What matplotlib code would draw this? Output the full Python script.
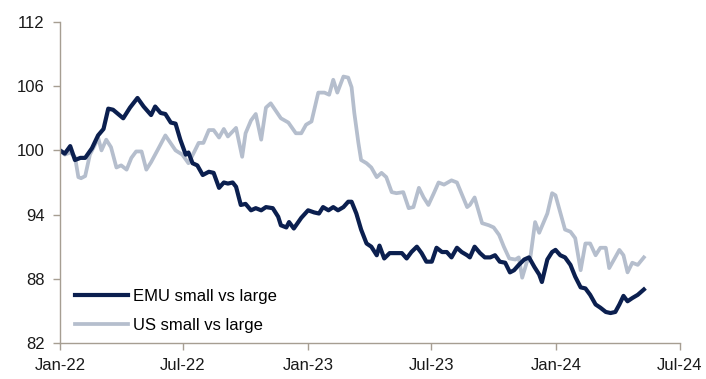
import numpy as np
import pandas as pd
import matplotlib
matplotlib.use("Agg")
import matplotlib.pyplot as plt
import matplotlib.dates as mdates

# EMU small vs large (rebased to 100)
emu_dates = ["2022-01-01", "2022-01-08", "2022-01-16", "2022-01-23", "2022-01-31", "2022-02-07",
             "2022-02-17", "2022-02-26", "2022-03-06", "2022-03-13", "2022-03-20", "2022-04-04",
             "2022-04-14", "2022-04-25", "2022-05-04", "2022-05-15", "2022-05-21", "2022-05-29",
             "2022-06-05", "2022-06-13", "2022-06-20", "2022-06-27", "2022-07-05", "2022-07-09",
             "2022-07-15", "2022-07-22", "2022-07-30", "2022-08-08", "2022-08-15", "2022-08-23",
             "2022-08-30", "2022-09-05", "2022-09-12", "2022-09-17", "2022-09-24", "2022-10-01",
             "2022-10-09", "2022-10-16", "2022-10-24", "2022-10-31", "2022-11-10", "2022-11-18",
             "2022-11-22", "2022-11-30", "2022-12-04", "2022-12-11", "2022-12-22", "2023-01-01",
             "2023-01-10", "2023-01-17", "2023-01-23", "2023-01-31", "2023-02-07", "2023-02-14",
             "2023-02-22", "2023-03-01", "2023-03-06", "2023-03-13", "2023-03-20", "2023-03-28",
             "2023-04-04", "2023-04-12", "2023-04-16", "2023-04-23", "2023-05-01", "2023-05-11",
             "2023-05-19", "2023-05-26", "2023-06-02", "2023-06-10", "2023-06-17", "2023-06-24",
             "2023-07-02", "2023-07-09", "2023-07-17", "2023-07-24", "2023-07-31", "2023-08-08",
             "2023-08-15", "2023-08-23", "2023-08-27", "2023-09-03", "2023-09-11", "2023-09-18",
             "2023-09-26", "2023-10-03", "2023-10-10", "2023-10-18", "2023-10-25", "2023-10-31",
             "2023-11-07", "2023-11-15", "2023-11-22", "2023-11-30", "2023-12-07", "2023-12-11",
             "2023-12-19", "2023-12-26", "2023-12-31", "2024-01-07", "2024-01-14", "2024-01-22",
             "2024-01-29", "2024-02-06", "2024-02-13", "2024-02-20", "2024-02-28", "2024-03-06",
             "2024-03-14", "2024-03-21", "2024-03-28", "2024-04-03", "2024-04-09", "2024-04-15",
             "2024-04-22", "2024-04-30", "2024-05-09"]
emu_values = [100.0, 99.7, 100.4, 99.1, 99.3, 99.3,
              100.2, 101.4, 102.0, 103.9, 103.8, 103.0,
              104.0, 104.9, 104.1, 103.3, 104.1, 103.5,
              103.4, 102.6, 102.5, 101.0, 99.6, 99.8,
              98.8, 98.6, 97.7, 98.0, 97.9, 96.5,
              97.0, 96.9, 97.0, 96.6, 94.9, 95.0,
              94.4, 94.6, 94.4, 94.7, 94.6, 93.8,
              93.0, 92.8, 93.3, 92.7, 93.7, 94.4,
              94.2, 94.1, 94.7, 94.4, 94.7, 94.4,
              94.7, 95.2, 95.2, 94.1, 92.6, 91.3,
              91.0, 90.2, 91.1, 89.9, 90.4, 90.4,
              90.4, 89.9, 90.5, 91.0, 90.4, 89.6,
              89.6, 90.9, 90.5, 90.5, 90.0, 90.9,
              90.5, 90.2, 90.0, 91.0, 90.4, 90.0,
              90.0, 90.2, 89.6, 89.5, 88.6, 88.8,
              89.3, 89.8, 90.0, 89.1, 88.4, 87.7,
              89.8, 90.5, 90.7, 90.2, 90.0, 89.3,
              88.2, 87.2, 87.1, 86.5, 85.6, 85.3,
              84.9, 84.8, 84.9, 85.6, 86.4, 85.9,
              86.2, 86.5, 87.0]

# US small vs large (rebased to 100)
us_dates = ["2022-01-01", "2022-01-08", "2022-01-16", "2022-01-23", "2022-01-28", "2022-02-01",
            "2022-02-07", "2022-02-14", "2022-02-22", "2022-02-26", "2022-03-03", "2022-03-10",
            "2022-03-17", "2022-03-25", "2022-04-01", "2022-04-09", "2022-04-16", "2022-04-23",
            "2022-05-01", "2022-05-08", "2022-05-15", "2022-05-26", "2022-06-05", "2022-06-20",
            "2022-06-30", "2022-07-09", "2022-07-17", "2022-07-24", "2022-07-31", "2022-08-08",
            "2022-08-15", "2022-08-23", "2022-08-30", "2022-09-05", "2022-09-17", "2022-09-26",
            "2022-10-01", "2022-10-09", "2022-10-16", "2022-10-24", "2022-10-31", "2022-11-07",
            "2022-11-22", "2022-12-03", "2022-12-14", "2022-12-22", "2022-12-29", "2023-01-06",
            "2023-01-16", "2023-01-25", "2023-02-01", "2023-02-07", "2023-02-13", "2023-02-22",
            "2023-03-01", "2023-03-06", "2023-03-10", "2023-03-16", "2023-03-20", "2023-03-28",
            "2023-04-04", "2023-04-12", "2023-04-19", "2023-04-26", "2023-05-04", "2023-05-11",
            "2023-05-21", "2023-05-29", "2023-06-05", "2023-06-13", "2023-06-20", "2023-06-27",
            "2023-07-05", "2023-07-12", "2023-07-20", "2023-07-31", "2023-08-08", "2023-08-23",
            "2023-08-27", "2023-09-03", "2023-09-14", "2023-09-24", "2023-10-01", "2023-10-09",
            "2023-10-16", "2023-10-24", "2023-11-02", "2023-11-07", "2023-11-12", "2023-11-19",
            "2023-11-24", "2023-12-01", "2023-12-07", "2023-12-19", "2023-12-26", "2023-12-31",
            "2024-01-07", "2024-01-14", "2024-01-22", "2024-01-29", "2024-02-06", "2024-02-13",
            "2024-02-20", "2024-02-28", "2024-03-06", "2024-03-14", "2024-03-19", "2024-03-27",
            "2024-04-03", "2024-04-09", "2024-04-15", "2024-04-22", "2024-04-30", "2024-05-09"]
us_values = [100.0, 99.6, 99.8, 99.4, 97.5, 97.4,
             97.6, 99.6, 100.6, 101.2, 100.0, 101.0,
             100.3, 98.4, 98.6, 98.2, 99.3, 99.9,
             99.9, 98.2, 98.9, 100.2, 101.4, 100.0,
             99.6, 98.8, 99.8, 100.7, 100.7, 101.9,
             101.9, 101.2, 102.0, 101.3, 102.1, 99.4,
             101.6, 102.8, 103.4, 101.0, 104.0, 104.4,
             103.0, 102.6, 101.6, 101.6, 102.4, 102.7,
             105.4, 105.4, 105.2, 106.6, 105.4, 106.9,
             106.8, 105.9, 103.5, 100.7, 99.1, 98.8,
             98.4, 97.5, 97.9, 97.5, 96.1, 96.0,
             96.1, 94.6, 94.7, 96.5, 95.6, 94.9,
             96.0, 97.0, 96.8, 97.2, 97.0, 94.7,
             94.9, 95.6, 93.2, 93.0, 92.8, 92.1,
             91.0, 89.9, 89.8, 90.0, 88.1, 89.6,
             90.0, 93.3, 92.3, 94.1, 96.0, 95.8,
             94.2, 92.6, 92.4, 91.8, 88.8, 91.3,
             91.3, 90.2, 90.9, 90.9, 89.0, 89.9,
             90.7, 90.2, 88.6, 89.5, 89.3, 90.0]

series_labels = ["EMU small vs large", "US small vs large"]
y_ticks = [82, 88, 94, 100, 106, 112]

dark = "#0B1F4F"
light = "#B5BECD"
spine_col = "#A69E92"

plt.rcParams['font.family'] = ['Liberation Sans', 'DejaVu Sans']

fig = plt.figure(figsize=(7.06, 3.79), dpi=100)
ax = fig.add_axes([0.085, 0.095, 0.878, 0.847])

ax.plot(pd.to_datetime(us_dates), us_values, color=light, lw=2.7,
        label=series_labels[1], solid_joinstyle='round')
ax.plot(pd.to_datetime(emu_dates), emu_values, color=dark, lw=3.0,
        label=series_labels[0], solid_joinstyle='round')

ax.set_ylim(82, 112)
ax.set_yticks(y_ticks)
ax.set_xlim(pd.Timestamp("2022-01-01"), pd.Timestamp("2024-07-01"))
ax.xaxis.set_major_locator(mdates.MonthLocator(bymonth=[1, 7]))
ax.xaxis.set_major_formatter(mdates.DateFormatter("%b-%y"))

for s in ["top", "right"]:
    ax.spines[s].set_visible(False)
for s in ["left", "bottom"]:
    ax.spines[s].set_color(spine_col)
    ax.spines[s].set_linewidth(1.0)
ax.tick_params(axis="both", colors=spine_col, labelcolor="#1A1A1A",
               labelsize=12, length=5, width=1.0, direction="out")
ax.tick_params(axis="x", pad=6)
ax.tick_params(axis="y", pad=6)

h, l = ax.get_legend_handles_labels()
ax.legend(h[::-1], l[::-1], loc="lower left", frameon=False, fontsize=12,
          handlelength=3.2, handletextpad=0.3, labelspacing=0.85,
          bbox_to_anchor=(0.0, -0.015))

fig.savefig("out.png", dpi=100)
